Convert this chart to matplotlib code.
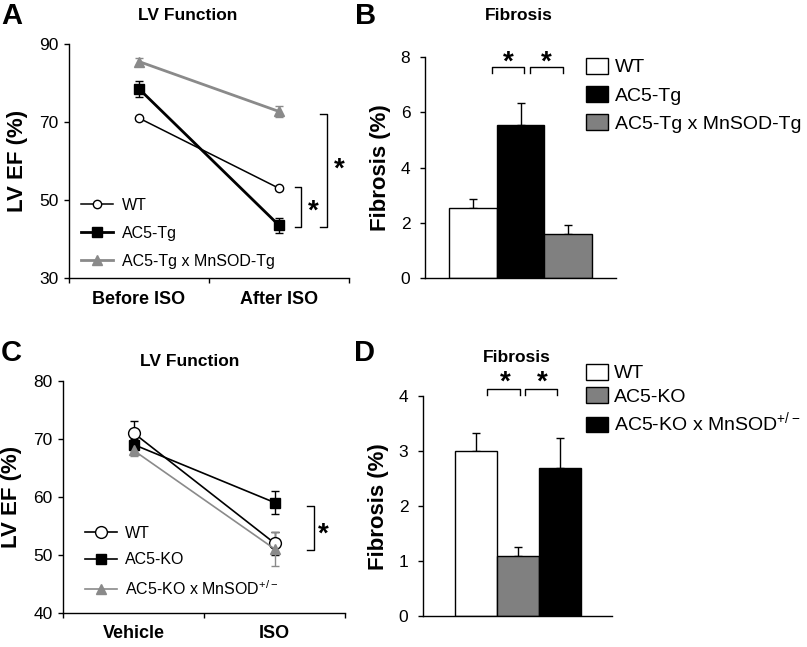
import matplotlib
matplotlib.use('Agg')
import matplotlib.pyplot as plt
from matplotlib.patches import Patch

plt.rcParams['font.family'] = ['Liberation Sans', 'DejaVu Sans']
plt.rcParams['mathtext.fontset'] = 'custom'
plt.rcParams['mathtext.rm'] = 'Liberation Sans'
plt.rcParams['axes.linewidth'] = 1.0

# panel A: LV function, transgenic
a_groups = ['Before ISO', 'After ISO']
a_wt = [71, 53]
a_wt_err = [0.4, 0.4]
a_tg = [78.5, 43.5]
a_tg_err = [2.0, 2.0]
a_mn = [85.5, 72.7]
a_mn_err = [1.0, 1.5]

# panel B: fibrosis, transgenic
b_labels = ['WT', 'AC5-Tg', 'AC5-Tg x MnSOD-Tg']
b_vals = [2.55, 5.55, 1.58]
b_err = [0.30, 0.78, 0.35]
b_colors = ['white', 'black', '#808080']

# panel C: LV function, knockout
c_groups = ['Vehicle', 'ISO']
c_wt = [71, 52]
c_wt_err = [2.0, 2.0]
c_ko = [69, 59]
c_ko_err = [1.0, 2.0]
c_mn = [68, 51]
c_mn_err = [1.0, 3.0]

# panel D: fibrosis, knockout
d_labels = ['WT', 'AC5-KO', 'AC5-KO x MnSOD$^{+/-}$']
d_vals = [3.0, 1.1, 2.7]
d_err = [0.33, 0.16, 0.53]
d_colors = ['white', '#808080', 'black']

GRAY = '#8a8a8a'
W, H = 807, 647


def fig_rect(x0, y0, x1, y1):
    # pixel box -> figure fraction
    return [x0 / W, 1 - y1 / H, (x1 - x0) / W, (y1 - y0) / H]


def style_axes(ax, pad):
    for s in ('top', 'right'):
        ax.spines[s].set_visible(False)
    ax.tick_params(axis='y', direction='out', length=3.6, width=1,
                   labelsize=12.5, pad=pad)


def line_panel(ax, groups, series, ylim, yticks):
    style_axes(ax, 4)
    x = [0.5, 1.5]
    handles = []
    for vals, err, kw, lab in series:
        ax.errorbar(x, vals, yerr=err, fmt='none', ecolor=kw['color'],
                    elinewidth=1.0, capsize=3.2, capthick=1.0, zorder=2)
        h, = ax.plot(x, vals, label=lab, zorder=3, **kw)
        handles.append(h)
    ax.set_xlim(0, 2)
    ax.set_ylim(*ylim)
    ax.set_yticks(yticks)
    ax.set_xticks([0, 1, 2])
    ax.set_xticklabels([])
    ax.set_xticks(x, minor=True)
    ax.set_xticklabels(groups, minor=True, fontweight='bold', fontsize=13)
    ax.tick_params(axis='x', which='major', direction='out', length=3.6,
                   width=1)
    ax.tick_params(axis='x', which='minor', length=0, pad=9)
    ax.set_ylabel('LV EF (%)', fontsize=16, fontweight='bold', labelpad=8)
    return handles


def bar_panel(ax, vals, err, colors, xlim, ylim, yticks):
    style_axes(ax, 7)
    x = list(range(len(vals)))
    bars = ax.bar(x, vals, width=1.0, color=colors, edgecolor='black',
                  linewidth=1.0, zorder=2)
    ax.errorbar(x, vals, yerr=[[0] * len(err), err], fmt='none',
                ecolor='black', elinewidth=1.0, capsize=3, capthick=1.0,
                zorder=1)
    ax.set_xlim(*xlim)
    ax.set_ylim(*ylim)
    ax.set_yticks(yticks)
    ax.set_xticks([])
    ax.set_ylabel('Fibrosis (%)', fontsize=16, fontweight='bold', labelpad=7)
    return bars


def bracket_h(ax, x0, x1, ytop, ybot):
    ax.plot([x0, x0, x1, x1], [ybot, ytop, ytop, ybot], color='black',
            lw=1.0, clip_on=False)


def bracket_v(ax, x0, x1, ytop, ybot):
    ax.plot([x0, x1, x1, x0], [ytop, ytop, ybot, ybot], color='black',
            lw=1.0, clip_on=False)


def star(ax, x, y):
    ax.text(x, y, '*', fontsize=20, fontweight='bold', ha='center',
            va='center', clip_on=False)


fig = plt.figure(figsize=(W / 100, H / 100), dpi=100)

# ---- A
axA = fig.add_axes(fig_rect(69, 44, 349, 278))
hA = line_panel(axA, a_groups, [
    (a_wt, a_wt_err, dict(color='black', lw=1.1, marker='o', ms=6,
                          mfc='white', mec='black', mew=1.0), 'WT'),
    (a_tg, a_tg_err, dict(color='black', lw=2.0, marker='s', ms=7,
                          mfc='black', mec='black'), 'AC5-Tg'),
    (a_mn, a_mn_err, dict(color=GRAY, lw=2.0, marker='^', ms=7,
                          mfc=GRAY, mec=GRAY), 'AC5-Tg x MnSOD-Tg'),
], (30, 90), [30, 50, 70, 90])
axA.legend(handles=hA, loc='upper left', frameon=False, fontsize=11.5,
           bbox_to_anchor=(81 / W, 1 - 198 / H), bbox_transform=fig.transFigure,
           borderpad=0, borderaxespad=0, handlelength=2.0, handletextpad=0.55,
           labelspacing=0.8)
bracket_v(axA, 1.614, 1.657, 53.3, 43.1)
star(axA, 1.745, 47.0)
bracket_v(axA, 1.793, 1.843, 72.05, 43.1)
star(axA, 1.93, 57.8)

# ---- B
axB = fig.add_axes(fig_rect(425, 57, 616, 278))
bB = bar_panel(axB, b_vals, b_err, b_colors, (-1, 3), (0, 8), [0, 2, 4, 6, 8])
bracket_h(axB, 0.41, 1.08, 7.64, 7.42)
bracket_h(axB, 1.19, 1.88, 7.64, 7.42)
star(axB, 0.75, 7.78)
star(axB, 1.55, 7.78)
leg_b = [Patch(facecolor=c, edgecolor='black', linewidth=1.0) for c in b_colors]
axB.legend(leg_b, b_labels, loc='upper left', frameon=False, fontsize=14,
           bbox_to_anchor=(586 / W, 1 - 58 / H), bbox_transform=fig.transFigure,
           borderpad=0, borderaxespad=0, handlelength=1.13, handleheight=0.85,
           handletextpad=0.38, labelspacing=0.5)

# ---- C
axC = fig.add_axes(fig_rect(63, 380.7, 345, 612.7))
hC = line_panel(axC, c_groups, [
    (c_wt, c_wt_err, dict(color='black', lw=1.2, marker='o', ms=8.5,
                          mfc='white', mec='black', mew=1.0), 'WT'),
    (c_ko, c_ko_err, dict(color='black', lw=1.2, marker='s', ms=7,
                          mfc='black', mec='black'), 'AC5-KO'),
    (c_mn, c_mn_err, dict(color=GRAY, lw=1.2, marker='^', ms=7.5,
                          mfc=GRAY, mec=GRAY), 'AC5-KO x MnSOD$^{+/-}$'),
], (40, 80), [40, 50, 60, 70, 80])
axC.legend(handles=hC, loc='upper left', frameon=False, fontsize=11.5,
           bbox_to_anchor=(85 / W, 1 - 526 / H), bbox_transform=fig.transFigure,
           borderpad=0, borderaxespad=0, handlelength=2.0, handletextpad=0.5,
           labelspacing=0.72)
bracket_v(axC, 1.73, 1.78, 58.45, 50.8)
star(axC, 1.844, 53.4)

# ---- D
axD = fig.add_axes(fig_rect(423, 396, 612, 616.3))
bD = bar_panel(axD, d_vals, d_err, d_colors, (-1.25, 3.25), (0, 4),
               [0, 1, 2, 3, 4])
bracket_h(axD, 0.274, 1.06, 4.12, 4.02)
bracket_h(axD, 1.18, 1.94, 4.12, 4.02)
star(axD, 0.70, 4.25)
star(axD, 1.58, 4.25)
leg_d = [Patch(facecolor=c, edgecolor='black', linewidth=1.0) for c in d_colors]
axD.legend(leg_d, d_labels, loc='upper left', frameon=False, fontsize=14,
           bbox_to_anchor=(586 / W, 1 - 364 / H), bbox_transform=fig.transFigure,
           borderpad=0, borderaxespad=0, handlelength=1.13, handleheight=0.85,
           handletextpad=0.3, labelspacing=0.25)

# titles and panel letters
for txt, xp, yp in [('LV Function', 188, 16), ('Fibrosis', 519, 16),
                    ('LV Function', 190, 362), ('Fibrosis', 517, 358)]:
    fig.text(xp / W, 1 - yp / H, txt, ha='center', va='center',
             fontsize=12.5, fontweight='bold')
for txt, xp, yp in [('A', 1, 16), ('B', 355, 16), ('C', 1, 353),
                    ('D', 354, 353)]:
    fig.text(xp / W, 1 - yp / H, txt, ha='left', va='center',
             fontsize=21, fontweight='bold')

fig.savefig('out.png', dpi=100)
plt.close()
